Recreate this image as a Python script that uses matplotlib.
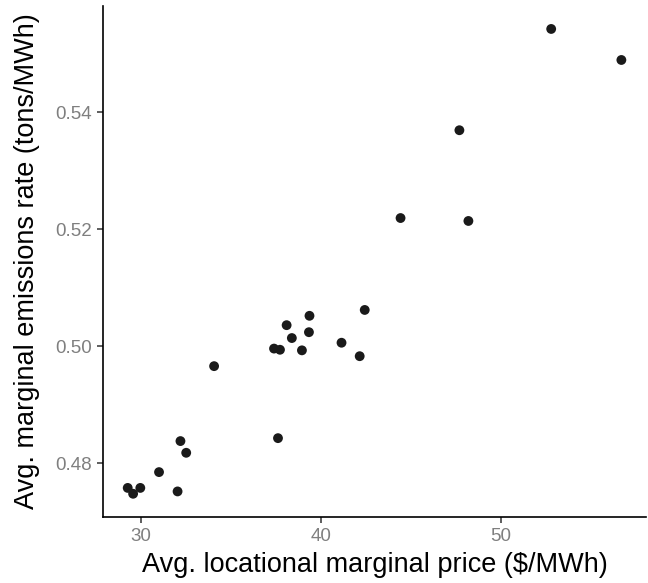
import matplotlib.pyplot as plt
import matplotlib as mpl

mpl.rcParams['font.family'] = ['Liberation Sans', 'DejaVu Sans']

# average LMP vs average marginal emissions rate, one point per node
lmp = [29.27, 29.57, 29.97, 31.01, 32.04, 32.20, 32.52, 34.07,
       37.40, 37.73, 38.10, 38.39, 38.95, 39.34, 39.37, 41.15,
       42.16, 42.44, 37.62, 44.43, 48.20, 47.70, 52.8, 56.7]
mer = [0.4758, 0.4748, 0.4758, 0.4785, 0.4752, 0.4838, 0.4818, 0.4966,
       0.4996, 0.4994, 0.5036, 0.5014, 0.4993, 0.5024, 0.5052, 0.5006,
       0.4983, 0.5062, 0.4843, 0.5219, 0.5214, 0.5369, 0.5542, 0.5489]

x_ticks = [30, 40, 50]
y_ticks = [0.48, 0.50, 0.52, 0.54]

fig = plt.figure(figsize=(6.48, 5.83), dpi=100)
ax = fig.add_axes([0.159, 0.1132, 0.838, 0.877])

ax.scatter(lmp, mer, s=50, color='#1a1a1a', edgecolors='none', zorder=3)

# ggplot-style limits: 5% padding on each side
xr = max(lmp) - min(lmp)
yr = max(mer) - min(mer)
ax.set_xlim(min(lmp) - 0.05 * xr, max(lmp) + 0.05 * xr)
ax.set_ylim(min(mer) - 0.05 * yr, max(mer) + 0.05 * yr)

ax.set_xticks(x_ticks)
ax.set_yticks(y_ticks)
ax.set_yticklabels(['%.2f' % v for v in y_ticks])

for side in ['top', 'right']:
    ax.spines[side].set_visible(False)
for side in ['left', 'bottom']:
    ax.spines[side].set_linewidth(1.2)
    ax.spines[side].set_color('black')

ax.tick_params(axis='both', length=4, width=1.1, color='#333333',
               labelcolor='#7f7f7f', labelsize=13.5, pad=4)

ax.set_xlabel('Avg. locational marginal price ($/MWh)', fontsize=19.5, labelpad=5)
ax.set_ylabel('Avg. marginal emissions rate (tons/MWh)', fontsize=19.5, labelpad=11)

plt.savefig('out.png', dpi=100)
